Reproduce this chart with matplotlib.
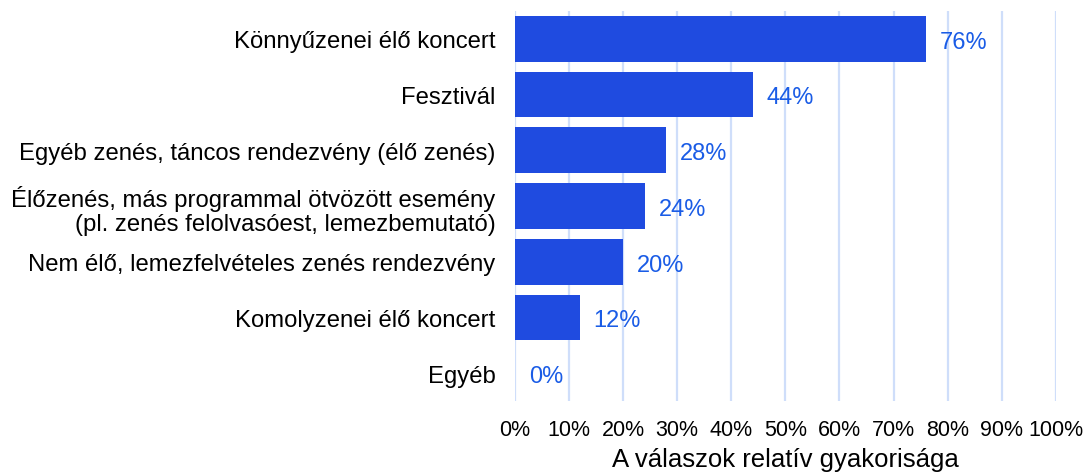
import matplotlib.pyplot as plt
import numpy as np

plt.rcParams['font.family'] = ['Liberation Sans', 'DejaVu Sans']

categories = [
    "Könnyűzenei élő koncert",
    "Fesztivál",
    "Egyéb zenés, táncos rendezvény (élő zenés)",
    "Élőzenés, más programmal ötvözött esemény\n(pl. zenés felolvasóest, lemezbemutató)",
    "Nem élő, lemezfelvételes zenés rendezvény",
    "Komolyzenei élő koncert",
    "Egyéb",
]
values = [76, 44, 28, 24, 20, 12, 0]
xticks = list(range(0, 101, 10))

fig = plt.figure(figsize=(10.84, 4.77), dpi=100)
ax = fig.add_axes([0.475, 0.157, 0.499, 0.818])

y_pos = np.arange(len(categories))
ax.barh(y_pos, values, height=0.82, color='#1f4be0', zorder=3)

for y, v in zip(y_pos, values):
    ax.annotate(f"{v}%", (v, y), xytext=(10, -2), textcoords='offset points',
                va='center', ha='left', fontsize=17, color='#1a5ce6', zorder=4)

ax.set_yticks(y_pos)
ax.set_yticklabels(categories, fontsize=17.2, linespacing=1.15)
ax.set_ylim(len(categories) - 0.5, -0.5)
ax.set_xlim(0, 100)
ax.set_xticks(xticks)
ax.set_xticklabels([f"{t}%" for t in xticks], fontsize=15.5)
ax.tick_params(axis='both', length=0)
ax.tick_params(axis='x', pad=13)
ax.tick_params(axis='y', pad=14)
ax.grid(axis='x', color='#cfdefa', linewidth=1.6, zorder=0)
for s in ax.spines.values():
    s.set_visible(False)
ax.set_xlabel("A válaszok relatív gyakorisága", fontsize=18.5, labelpad=5)

fig.savefig("out.png", dpi=100)
